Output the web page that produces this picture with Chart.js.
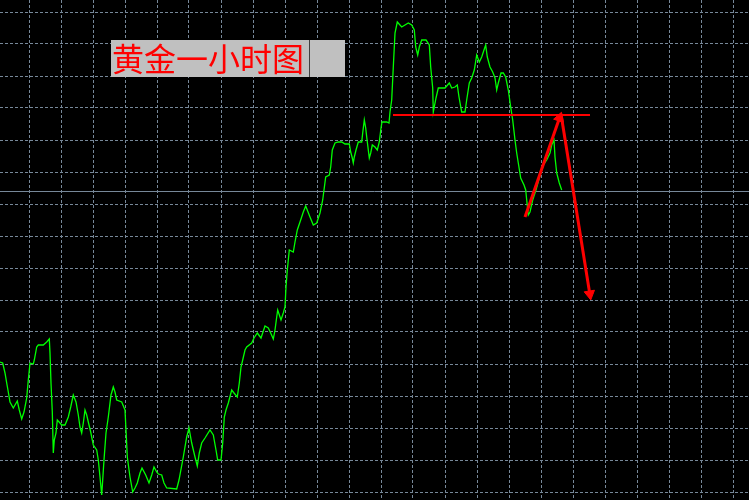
<!DOCTYPE html>
<html>
<head>
<meta charset="utf-8">
<script src="https://cdn.jsdelivr.net/npm/chart.js@4/dist/chart.umd.min.js"></script>
<style>
  html, body { margin: 0; padding: 0; background: #000; }
  #wrap { width: 749px; height: 500px; }
</style>
</head>
<body>
<div id="wrap"><canvas id="goldChart" width="749" height="500"></canvas></div>
<script>
// hourly closes, x = bar position, y = price level
const t = [0, 2.7, 5, 6.7, 8.3, 10, 13.3, 17.3, 19.3, 21.7, 24, 26.7, 28.3, 30, 33.3, 34.3, 36.7, 38.3, 43.3, 46.7,
  49.3, 50, 51, 52.3, 53.3, 54.3, 56, 57.3, 60, 61.7, 65, 68.3, 70.7, 73.3, 76, 78.3, 80, 81.7, 83.3, 85,
  86.7, 88.3, 90.7, 93.3, 96.7, 98.3, 100, 101.7, 102.7, 104, 106, 108.3, 111, 113.3, 115, 116.7, 121.7, 125, 126, 127.3,
  130, 132.7, 135, 137.3, 140, 142, 145.7, 149, 151.7, 154, 156.7, 158.3, 161.7, 164, 166.7, 176.7, 179, 183.3, 186.7, 189,
  191.7, 195, 197.3, 199.3, 201.7, 205, 210, 213.3, 216, 217.7, 221, 222.7, 224.3, 226, 228.3, 231.7, 234, 237.3, 239.3, 241,
  242.7, 245, 246.7, 251.7, 254, 257.3, 261, 265, 268.3, 270.7, 273.3, 275, 276.7, 277.7, 281, 283.3, 285, 286, 287.3, 289.3,
  293.3, 295, 297.3, 300, 303.3, 305.7, 310, 313.3, 316.7, 320, 322.7, 324, 325.7, 329.3, 330.7, 332.3, 335, 338.3, 341.7, 345,
  349.3, 350.7, 352.3, 353.3, 354.3, 356, 358.3, 361.7, 362.7, 364.3, 365.7, 366.7, 368.3, 369.3, 370.7, 372.3, 375, 377.3, 379.3, 381,
  382, 386.7, 389, 390, 391.7, 393.3, 395, 397.3, 401.7, 408.3, 411.7, 414.3, 415.7, 417.7, 419.3, 421.7, 426, 429.3, 430.7, 432.7,
  433.3, 436, 438.3, 445, 449.3, 451.7, 455, 457.3, 459, 461.7, 465, 466.7, 469.3, 471.7, 474.3, 476.7, 479.3, 481.7, 484, 485.7,
  487.3, 490, 492.7, 495, 496.7, 498.3, 501, 503.3, 505.7, 508.3, 510.7, 512.7, 515, 516.7, 518.3, 520.7, 524, 525.7, 526.7, 528.3,
  530, 532.7, 536, 539.3, 543.3, 546.7, 550, 551.7, 554, 555, 556.7, 559.3, 561.7];

const close = [138, 137, 127, 117, 108, 98, 92, 99, 90, 81, 88, 102, 120, 137, 136, 140, 153, 155, 155, 158,
  161, 147, 117, 88, 47, 60, 67, 80, 77, 75, 75, 83, 93, 105, 98, 85, 73, 67, 77, 90,
  85, 78, 68, 55, 50, 40, 23, 5, 20, 40, 67, 83, 105, 113, 108, 100, 98, 90, 70, 43,
  23, 8, 12, 17, 27, 32, 25, 17, 25, 33, 28, 26, 25, 17, 12, 11, 20, 43, 63, 72,
  57, 43, 34, 47, 57, 62, 70, 65, 50, 40, 40, 57, 83, 90, 97, 110, 107, 103, 117, 133,
  140, 150, 153, 157, 162, 167, 162, 174, 172, 167, 161, 170, 183, 190, 180, 187, 193, 213, 230, 250,
  248, 258, 270, 278, 288, 294, 283, 275, 277, 287, 300, 310, 323, 325, 333, 350, 357, 358, 358, 356,
  356, 348, 342, 337, 343, 350, 358, 358, 367, 380, 372, 363, 350, 342, 347, 355, 353, 350, 358, 372,
  378, 378, 377, 388, 400, 433, 467, 478, 473, 477, 475, 470, 453, 445, 453, 460, 460, 455, 433, 412,
  388, 402, 412, 412, 417, 412, 413, 415, 403, 388, 388, 400, 417, 422, 430, 445, 438, 443, 450, 455,
  443, 433, 428, 422, 410, 417, 427, 427, 423, 410, 393, 380, 360, 347, 337, 322, 315, 310, 300, 285,
  288, 300, 310, 322, 335, 340, 347, 355, 360, 343, 327, 317, 310];

// current price line and the hand-drawn red marks
const priceNow = 308.5;
const levelT = [393, 590];
const levelV = [385, 385];
const upT = [525, 559.5];
const upV = [283, 382];
const downT = [561, 589.8];
const downV = [386, 206];

// grid positions
const xTicks = [29, 61, 93, 125, 157, 189, 221, 253, 285, 317, 349, 381, 413, 445, 477, 509, 541, 573, 605, 637, 669, 701, 733];
const yTicks = [488, 456, 424, 392, 360, 328, 296, 264, 232, 200, 168, 136, 104, 72, 40, 8];

const title = '黄金一小时图';

function pts(xs, ys) {
    return xs.map((x, i) => ({ x: x, y: ys[i] }));
}

const titlePlugin = {
    id: 'titleBox',
    afterDatasetsDraw(chart) {
        const ctx = chart.ctx;
        ctx.save();
        ctx.fillStyle = '#c0c0c0';
        ctx.fillRect(111, 40, 234, 37);
        ctx.strokeStyle = '#404040';
        ctx.lineWidth = 1;
        ctx.beginPath();
        ctx.moveTo(309.5, 40);
        ctx.lineTo(309.5, 77);
        ctx.stroke();
        ctx.font = '32px "Noto Sans CJK SC"';
        ctx.fillStyle = '#ff0000';
        ctx.textAlign = 'left';
        ctx.textBaseline = 'middle';
        ctx.fillText(title, 112, 59);
        ctx.restore();
    }
};

const gridColor = '#778899';

new Chart(document.getElementById('goldChart'), {
    type: 'line',
    data: {
        datasets: [
            {
                data: pts(levelT, levelV),
                borderColor: '#ff0000',
                borderWidth: 2,
                pointRadius: 0,
                order: 0
            },
            {
                data: pts(upT, upV),
                borderColor: '#ff0000',
                backgroundColor: '#ff0000',
                borderWidth: 3,
                pointStyle: 'triangle',
                pointRadius: [0, 6],
                pointRotation: [0, 19],
                pointBorderWidth: 1,
                order: 0
            },
            {
                data: pts(downT, downV),
                borderColor: '#ff0000',
                backgroundColor: '#ff0000',
                borderWidth: 3,
                pointStyle: 'triangle',
                pointRadius: [0, 6],
                pointRotation: [0, 171],
                pointBorderWidth: 1,
                order: 0
            },
            {
                data: pts(t, close),
                borderColor: '#00ff00',
                borderWidth: 1.3,
                pointRadius: 0,
                tension: 0,
                order: 1
            },
            {
                data: [{ x: 0, y: priceNow }, { x: 749, y: priceNow }],
                borderColor: gridColor,
                borderWidth: 1,
                pointRadius: 0,
                order: 2
            }
        ]
    },
    options: {
        responsive: false,
        animation: false,
        events: [],
        layout: { padding: 0, autoPadding: false },
        plugins: {
            legend: { display: false },
            tooltip: { enabled: false },
            title: { display: false }
        },
        scales: {
            x: {
                type: 'linear',
                min: 0,
                max: 749,
                afterBuildTicks: function(scale) {
                    scale.ticks = xTicks.map(v => ({ value: v }));
                },
                ticks: { display: false },
                grid: { color: gridColor, lineWidth: 1, drawTicks: false },
                border: { display: false, dash: [3, 2] }
            },
            y: {
                type: 'linear',
                min: 0,
                max: 500,
                afterBuildTicks: function(scale) {
                    scale.ticks = yTicks.map(v => ({ value: v }));
                },
                ticks: { display: false },
                grid: { color: gridColor, lineWidth: 1, drawTicks: false },
                border: { display: false, dash: [3, 2] }
            }
        }
    },
    plugins: [titlePlugin]
});
</script>
</body>
</html>
